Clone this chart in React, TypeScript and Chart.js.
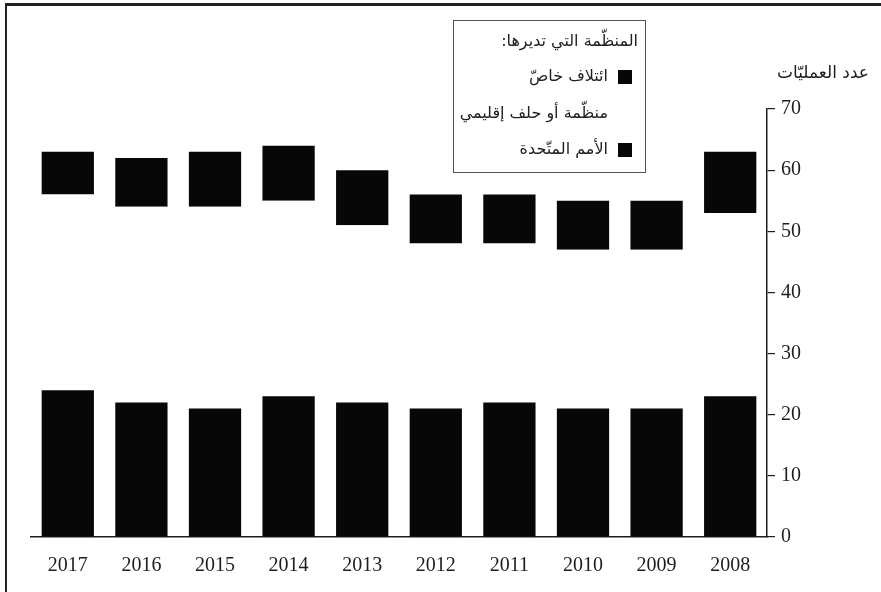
import React, { useEffect, useRef } from "react";
import { Chart, registerables } from "chart.js";

Chart.register(...registerables);

// ---- Data ----
const years = ["2017", "2016", "2015", "2014", "2013", "2012", "2011", "2010", "2009", "2008"];
const unOps = [24, 22, 21, 23, 22, 21, 22, 21, 21, 23];
const regionalOps = [32, 32, 33, 32, 29, 27, 26, 26, 26, 30];
const coalitionOps = [7, 8, 9, 9, 9, 8, 8, 8, 8, 10];
const yMin = 0;
const yMax = 70;
const yStep = 10;

const labelUN = "الأمم المتّحدة";
const labelRegional = "منظّمة أو حلف إقليمي";
const labelCoalition = "ائتلاف خاصّ";
const legendTitle = "المنظّمة التي تديرها:";
const axisTitle = "عدد العمليّات";

const INK = "#1e1e1e";
const BAR = "#070707";
const SERIF = "'Liberation Serif', 'DejaVu Serif', serif";
const ARABIC = "'DejaVu Sans', 'Noto Sans', sans-serif";

const decorPlugin = {
  id: "decor",
  beforeDraw(chart: any) {
    const { ctx, width, height } = chart;
    ctx.save();
    ctx.fillStyle = "#ffffff";
    ctx.fillRect(0, 0, width, height);
    ctx.restore();
  },
  afterDraw(chart: any) {
    const { ctx, width, height } = chart;
    ctx.save();
    // frame (top + left)
    ctx.fillStyle = "#222";
    ctx.fillRect(5, 3, width - 5, 3);
    ctx.fillRect(5, 3, 2, height - 3);

    // axis title
    ctx.direction = "rtl";
    ctx.fillStyle = INK;
    ctx.font = `17px ${ARABIC}`;
    ctx.textAlign = "center";
    ctx.textBaseline = "middle";
    ctx.fillText(axisTitle, 823, 74);

    // legend box
    ctx.strokeStyle = "#555";
    ctx.lineWidth = 1;
    ctx.strokeRect(453.5, 20.5, 192, 152);

    ctx.textAlign = "right";
    ctx.font = `16px ${ARABIC}`;
    ctx.fillText(legendTitle, 638, 42);

    const ds = chart.data.datasets;
    const rowsY = [77, 114, 150];
    for (let i = 0; i < ds.length; i++) {
      const d = ds[ds.length - 1 - i];
      const y = rowsY[i];
      ctx.fillStyle = d.backgroundColor;
      ctx.fillRect(618, y - 7, 14, 14);
      ctx.fillStyle = INK;
      ctx.fillText(d.label, 608, y);
    }
    ctx.restore();
  },
};

export default function App() {
  const ref = useRef<HTMLCanvasElement | null>(null);

  useEffect(() => {
    if (!ref.current) return;
    const chart = new Chart(ref.current, {
      type: "bar",
      data: {
        labels: years,
        datasets: [
          { label: labelUN, data: unOps, backgroundColor: BAR, borderWidth: 0 },
          { label: labelRegional, data: regionalOps, backgroundColor: "#ffffff", borderWidth: 0 },
          { label: labelCoalition, data: coalitionOps, backgroundColor: BAR, borderWidth: 0 },
        ],
      },
      options: {
        responsive: false,
        animation: false,
        devicePixelRatio: 1,
        datasets: { bar: { barPercentage: 0.71, categoryPercentage: 1 } },
        layout: { padding: { left: 31, top: 109, right: 0, bottom: 0 } },
        plugins: { legend: { display: false }, tooltip: { enabled: false }, title: { display: false } },
        scales: {
          x: {
            stacked: true,
            grid: { display: false, drawTicks: false },
            border: { display: true, color: INK, width: 1.5 },
            ticks: { color: INK, font: { family: SERIF, size: 20 }, padding: 17 },
            afterFit: (s: any) => {
              s.height = 55;
            },
          },
          y: {
            position: "right",
            stacked: true,
            min: yMin,
            max: yMax,
            ticks: { stepSize: yStep, color: INK, font: { family: SERIF, size: 20 }, padding: 6 },
            grid: { drawOnChartArea: false, drawTicks: true, tickLength: 8, color: INK, lineWidth: 1.2 },
            border: { display: true, color: INK, width: 1.5 },
            afterFit: (s: any) => {
              s.width = 114;
            },
          },
        },
      },
      plugins: [decorPlugin],
    } as any);
    return () => chart.destroy();
  }, []);

  return (
    <div style={{ position: "fixed", left: 0, top: 0, width: 881, height: 592, background: "#fff" }}>
      <canvas ref={ref} width={881} height={592} style={{ width: 881, height: 592, display: "block" }} />
    </div>
  );
}
